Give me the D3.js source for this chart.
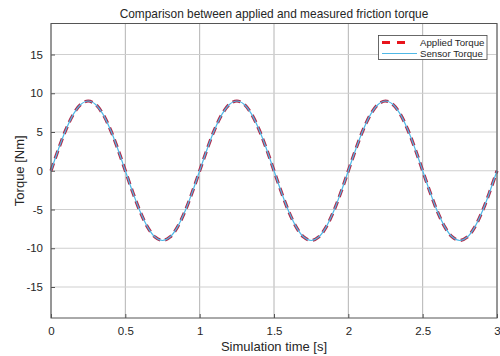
<!DOCTYPE html>
<html><head><meta charset="utf-8">
<script src="https://cdn.jsdelivr.net/npm/d3@7"></script>
<style>
html,body{margin:0;padding:0;background:#fff;overflow:hidden}
text{font-family:"Liberation Sans",Arial,Helvetica,sans-serif;fill:#262626}
</style></head>
<body><svg id="c" width="500" height="356"></svg>
<script>
const timeS = [0,0.05,0.1,0.15,0.2,0.25,0.3,0.35,0.4,0.45,0.5,0.55,0.6,0.65,0.7,0.75,0.8,0.85,0.9,0.95,
 1,1.05,1.1,1.15,1.2,1.25,1.3,1.35,1.4,1.45,1.5,1.55,1.6,1.65,1.7,1.75,1.8,1.85,1.9,1.95,
 2,2.05,2.1,2.15,2.2,2.25,2.3,2.35,2.4,2.45,2.5,2.55,2.6,2.65,2.7,2.75,2.8,2.85,2.9,2.95,3];
const appliedTorque = [0,2.78,5.29,7.28,8.56,9,8.56,7.28,5.29,2.78,0,-2.78,-5.29,-7.28,-8.56,-9,-8.56,-7.28,-5.29,-2.78,
 0,2.78,5.29,7.28,8.56,9,8.56,7.28,5.29,2.78,0,-2.78,-5.29,-7.28,-8.56,-9,-8.56,-7.28,-5.29,-2.78,
 0,2.78,5.29,7.28,8.56,9,8.56,7.28,5.29,2.78,0,-2.78,-5.29,-7.28,-8.56,-9,-8.56,-7.28,-5.29,-2.78,0];
const sensorTorque = [0,2.78,5.29,7.28,8.56,9,8.56,7.28,5.29,2.78,0,-2.78,-5.29,-7.28,-8.56,-9,-8.56,-7.28,-5.29,-2.78,
 0,2.78,5.29,7.28,8.56,9,8.56,7.28,5.29,2.78,0,-2.78,-5.29,-7.28,-8.56,-9,-8.56,-7.28,-5.29,-2.78,
 0,2.78,5.29,7.28,8.56,9,8.56,7.28,5.29,2.78,0,-2.78,-5.29,-7.28,-8.56,-9,-8.56,-7.28,-5.29,-2.78,0];
const xTicks = [0,0.5,1,1.5,2,2.5,3];
const xTickLabels = ["0","0.5","1","1.5","2","2.5","3"];
const yTicks = [-15,-10,-5,0,5,10,15];
const yTickLabels = ["-15","-10","-5","0","5","10","15"];
const seriesNames = ["Applied Torque","Sensor Torque"];
const titleText = "Comparison between applied and measured friction torque";
const xLabel = "Simulation time [s]";
const yLabel = "Torque [Nm]";

const svg = d3.select("#c");
const L=51, R=497, T=23.5, B=318;
const x = d3.scaleLinear().domain([0,3]).range([L,R]);
const y = d3.scaleLinear().domain([-19,19]).range([B,T]);

// grid
const g = svg.append("g");
g.selectAll(".gx").data(xTicks).join("line")
 .attr("x1",d=>x(d)).attr("x2",d=>x(d)).attr("y1",T).attr("y2",B)
 .attr("stroke","#b4b4b4").attr("stroke-width",1);
g.selectAll(".gy").data(yTicks).join("line")
 .attr("y1",d=>y(d)).attr("y2",d=>y(d)).attr("x1",L).attr("x2",R)
 .attr("stroke","#cfcfcf").attr("stroke-width",1);

// axes
const xAxis = d3.axisBottom(x).tickValues(xTicks).tickFormat((d,i)=>xTickLabels[i]).tickSizeInner(-4).tickSizeOuter(0).tickPadding(9);
const yAxis = d3.axisLeft(y).tickValues(yTicks).tickFormat((d,i)=>yTickLabels[i]).tickSizeInner(-4).tickSizeOuter(0).tickPadding(8);
const ax = svg.append("g").attr("transform",`translate(0,${B})`).call(xAxis);
const ay = svg.append("g").attr("transform",`translate(${L},0)`).call(yAxis);
[ax,ay].forEach(a=>{
  a.select(".domain").remove();
  a.selectAll("line").attr("stroke","#555");
  a.selectAll("text").attr("font-size",11.5).style("font-family","Liberation Sans, Arial, sans-serif").attr("fill","#262626");
});

// lines
const pts = timeS.map((t,i)=>({t,a:appliedTorque[i],s:sensorTorque[i]}));
const lineA = d3.line().x(d=>x(d.t)).y(d=>y(d.a)).curve(d3.curveCatmullRom);
const lineS = d3.line().x(d=>x(d.t)).y(d=>y(d.s)).curve(d3.curveCatmullRom);
svg.append("path").datum(pts).attr("d",lineA).attr("fill","none")
 .attr("stroke","#b02a4a").attr("stroke-width",3.2).attr("stroke-dasharray","8,5");
svg.append("path").datum(pts).attr("d",lineS).attr("fill","none")
 .attr("stroke","#4fb8e6").attr("stroke-width",1.2);

// box
svg.append("rect").attr("x",L).attr("y",T).attr("width",R-L).attr("height",B-T)
 .attr("fill","none").attr("stroke","#555").attr("stroke-width",1);

// legend
const lg = svg.append("g");
lg.append("rect").attr("x",378.5).attr("y",35.5).attr("width",108.5).attr("height",24)
 .attr("fill","#fff").attr("stroke","#444").attr("stroke-width",0.8);
lg.append("line").attr("x1",382).attr("x2",405).attr("y1",42.5).attr("y2",42.5)
 .attr("stroke","#e8141c").attr("stroke-width",3).attr("stroke-dasharray","8,7");
lg.append("line").attr("x1",382).attr("x2",417).attr("y1",53.5).attr("y2",53.5)
 .attr("stroke","#4fb8e6").attr("stroke-width",1.2);
lg.append("text").attr("x",420).attr("y",46.2).attr("font-size",9.7).text(seriesNames[0]);
lg.append("text").attr("x",420).attr("y",57.2).attr("font-size",9.7).text(seriesNames[1]);

// titles
svg.append("text").attr("x",(L+R)/2).attr("y",18).attr("text-anchor","middle").attr("font-size",11.9).text(titleText);
svg.append("text").attr("x",(L+R)/2).attr("y",351).attr("text-anchor","middle").attr("font-size",13).text(xLabel);
svg.append("text").attr("transform",`translate(24,${(T+B)/2}) rotate(-90)`).attr("text-anchor","middle").attr("font-size",13).text(yLabel);
</script></body></html>
